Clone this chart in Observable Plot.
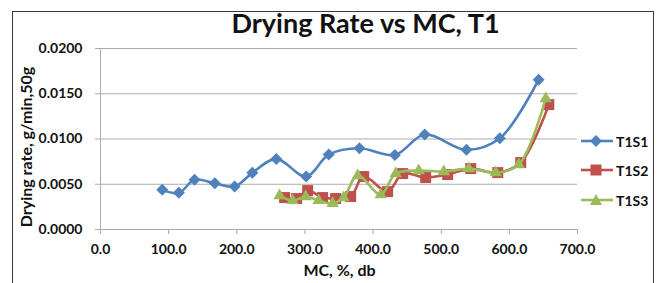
<!DOCTYPE html>
<html>
<head>
<meta charset="utf-8">
<script src="https://cdn.jsdelivr.net/npm/d3@7"></script>
<script src="https://cdn.jsdelivr.net/npm/@observablehq/plot@0.6"></script>
<style>
  html, body { margin: 0; padding: 0; background: #fff; }
  #wrap { position: relative; width: 658px; height: 283px; overflow: hidden; font-family: Lato, "Liberation Sans", sans-serif; }
  #frame { position: absolute; left: 12px; top: 11px; width: 642px; height: 300px; border: 1px solid #3a3a3a; box-sizing: border-box; pointer-events: none; }
  .leg { position: absolute; left: 580px; height: 20px; display: flex; align-items: center; font-weight: bold; font-size: 14px; color: #111; }
  .leg svg { display: block; margin-right: 2px; }
</style>
</head>
<body>
<div id="wrap"><div id="frame"></div></div>
<script>
// ---- data ----
const seriesNames = ["T1S1", "T1S2", "T1S3"];
const seriesColors = ["#4f81bd", "#c0504d", "#9bbb59"];

const mcS1   = [90.6, 115, 138, 167.8, 196.8, 222.8, 258, 301.8, 335, 380, 432, 475.8, 537, 586, 643];
const rateS1 = [0.00438, 0.00405, 0.00549, 0.00511, 0.00475, 0.00626, 0.0078, 0.00585, 0.00828, 0.00897, 0.00824, 0.01049, 0.0088, 0.01008, 0.01656];

const mcS2   = [270.2, 287.8, 304.0, 326.0, 345.1, 367.1, 386.2, 421.4, 443.5, 477.2, 509.5, 543.3, 583.0, 616.7, 657.9];
const rateS2 = [0.00353, 0.00342, 0.00430, 0.00353, 0.00342, 0.00364, 0.00585, 0.00419, 0.00618, 0.00574, 0.00607, 0.00673, 0.00629, 0.00740, 0.0138];

const mcS3   = [262.8, 281.9, 301.0, 320.1, 340.7, 356.8, 377.4, 411.2, 433.2, 467.0, 503.7, 540.4, 580.0, 613.8, 653.4];
const rateS3 = [0.00375, 0.0032, 0.00364, 0.0032, 0.00287, 0.00353, 0.00596, 0.00386, 0.00618, 0.00651, 0.0064, 0.00673, 0.00629, 0.00717, 0.01446];

const xTicks = [0, 100, 200, 300, 400, 500, 600, 700];
const yTicks = [0, 0.005, 0.01, 0.015, 0.02];

const titleText = "Drying Rate vs MC, T1";
const xTitle = "MC, %, db";
const yTitle = "Drying rate, g/min,50g";

// ---- build table ----
const toRows = (mc, rate, s) => mc.map((m, i) => ({mc: m, rate: rate[i], s}));
const s1 = toRows(mcS1, rateS1, seriesNames[0]);
const s2 = toRows(mcS2, rateS2, seriesNames[1]);
const s3 = toRows(mcS3, rateS3, seriesNames[2]);

const gridColor = "#ababab";
const font = "Lato, 'Liberation Sans', sans-serif";

const chart = Plot.plot({
  width: 658,
  height: 283,
  marginLeft: 100,
  marginRight: 81,
  marginTop: 48,
  marginBottom: 54,
  style: {fontFamily: font, background: "transparent", color: "#111", overflow: "visible"},
  x: {domain: [0, 700]},
  y: {domain: [0, 0.02]},
  marks: [
    Plot.gridY(yTicks, {stroke: gridColor, strokeOpacity: 1, strokeWidth: 1}),
    Plot.ruleX([0], {stroke: gridColor, strokeWidth: 1}),
    Plot.axisY(yTicks, {tickFormat: d => d.toFixed(4), tickSize: 5, tickPadding: 13, stroke: gridColor, fontSize: 14, fontWeight: "bold", fill: "#111", label: null}),
    Plot.axisX(xTicks, {tickFormat: d => d.toFixed(1), tickSize: 5, tickPadding: 10, stroke: gridColor, fontSize: 14, fontWeight: "bold", fill: "#111", label: null}),
    Plot.line(s1, {x: "mc", y: "rate", stroke: seriesColors[0], strokeWidth: 2.6, curve: "catmull-rom"}),
    Plot.dot(s1, {x: "mc", y: "rate", symbol: "diamond2", r: 5.4, fill: seriesColors[0], stroke: "none"}),
    Plot.line(s2, {x: "mc", y: "rate", stroke: seriesColors[1], strokeWidth: 2.6, curve: "catmull-rom"}),
    Plot.dot(s2, {x: "mc", y: "rate", symbol: "square", r: 6.2, fill: seriesColors[1], stroke: "none"}),
    Plot.line(s3, {x: "mc", y: "rate", stroke: seriesColors[2], strokeWidth: 2.6, curve: "catmull-rom"}),
    Plot.dot(s3, {x: "mc", y: "rate", symbol: "triangle", r: 4.6, fill: seriesColors[2], stroke: "none"}),
    Plot.text([titleText], {frameAnchor: "top", textAnchor: "middle", lineAnchor: "middle", dx: 26.5, dy: -23.7, fontSize: 27, fontWeight: "bold", fill: "#111"}),
    Plot.text([xTitle], {frameAnchor: "bottom", textAnchor: "middle", lineAnchor: "middle", dx: 0.5, dy: 41.5, fontSize: 16, fontWeight: "bold", fill: "#111"}),
    Plot.text([yTitle], {frameAnchor: "left", textAnchor: "middle", lineAnchor: "middle", dx: -74, dy: 8, rotate: -90, fontSize: 16, fontWeight: "bold", fill: "#111"})
  ]
});

const wrap = document.getElementById("wrap");
chart.style.position = "absolute";
chart.style.left = "0px";
chart.style.top = "0px";
wrap.insertBefore(chart, wrap.firstChild);

// ---- legend ----
const legY = [141, 170, 200];
const symbolPaths = [
  "M16,-6 L22,0 L16,6 L10,0 Z",
  "M10.5,-5.5 L21.5,-5.5 L21.5,5.5 L10.5,5.5 Z",
  "M16,-6 L22,5 L10,5 Z"
];
seriesNames.forEach((name, i) => {
  const d = document.createElement("div");
  d.className = "leg";
  d.style.top = (legY[i] - 10) + "px";
  d.innerHTML = `<svg width="34" height="20" viewBox="0 -10 34 20"><line x1="1" x2="33" y1="0" y2="0" stroke="${seriesColors[i]}" stroke-width="2.6"/><path d="${symbolPaths[i]}" fill="${seriesColors[i]}"/></svg><span>${name}</span>`;
  wrap.appendChild(d);
});
</script>
</body>
</html>
